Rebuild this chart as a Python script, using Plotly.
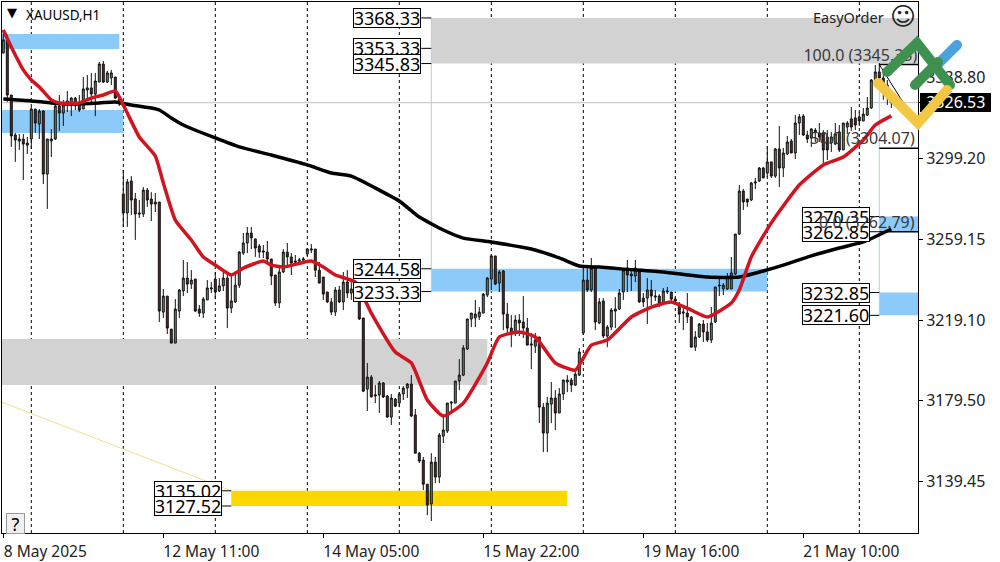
import plotly.graph_objects as go

# ---- price data (bar index = position in the lists) ----
opens = [
3351.0,3357.5,3330.3,3310.6,3308.6,3308.6,3306.6,3308.6,3323.4,3316.0,
3322.4,3291.3,3307.6,3308.6,3324.9,3321.4,3325.4,3325.4,3328.8,3325.4,
3323.4,3332.8,3333.8,3330.8,3336.7,3345.6,3336.7,3338.7,3339.2,3325.9,
3281.5,3272.1,3287.9,3279.0,3272.1,3271.6,3283.4,3279.0,3276.5,3277.5,
3223.2,3231.1,3214.8,3207.9,3223.7,3233.6,3240.0,3237.0,3239.5,3224.7,
3222.7,3229.2,3234.6,3239.5,3233.6,3236.1,3240.0,3225.2,3228.2,3236.5,
3252.3,3257.3,3262.2,3259.3,3255.8,3252.8,3252.8,3249.4,3241.5,3227.7,
3243.0,3252.8,3250.4,3248.4,3248.4,3248.9,3251.9,3253.8,3254.3,3243.9,
3240.5,3233.1,3228.2,3223.2,3234.1,3228.2,3238.0,3232.6,3232.1,3236.1,
3220.3,3185.2,3191.1,3181.8,3182.3,3188.2,3181.8,3171.4,3180.3,3178.3,
3182.8,3185.7,3187.7,3172.4,3153.6,3150.2,3138.3,3128.5,3149.2,3141.8,
3162.0,3164.5,3178.3,3178.3,3189.2,3192.1,3205.0,3219.8,3220.3,3220.8,
3222.7,3231.6,3239.5,3250.9,3237.5,3243.5,3222.2,3215.3,3212.9,3219.3,
3218.3,3215.3,3206.9,3206.4,3210.9,3176.3,3163.5,3177.8,3180.8,3173.4,
3182.8,3188.7,3189.7,3187.2,3192.1,3212.9,3239.0,3234.1,3245.4,3217.8,
3228.7,3211.4,3215.8,3223.7,3224.7,3233.1,3244.9,3241.0,3241.0,3243.0,
3230.1,3230.1,3234.1,3230.6,3231.1,3227.7,3233.1,3233.1,3229.6,3226.2,
3222.7,3222.7,3220.8,3205.9,3210.9,3217.3,3213.4,3209.4,3218.3,3236.1,
3234.6,3234.6,3234.6,3242.0,3261.7,3282.9,3279.0,3278.5,3286.9,3287.9,
3294.3,3291.8,3297.3,3290.3,3303.7,3294.3,3301.2,3307.6,3301.7,3316.5,
3319.9,3310.6,3309.1,3312.1,3311.6,3311.6,3309.6,3306.6,3306.1,3312.1,
3303.2,3314.5,3318.5,3319.0,3319.5,3317.5,3320.4,3323.9,3337.7,3341.7,
3338.7,3335.2,3330.3,
]
highs = [
3362.4,3359.9,3330.3,3311.6,3311.1,3311.1,3309.6,3324.4,3323.4,3323.4,
3322.9,3308.6,3313.5,3325.4,3330.3,3327.9,3332.3,3329.3,3329.3,3330.3,
3339.2,3340.2,3341.2,3341.2,3346.6,3347.1,3342.2,3342.7,3339.2,3328.8,
3293.3,3288.9,3290.3,3282.0,3278.5,3284.9,3284.4,3282.4,3282.0,3277.5,
3234.6,3231.1,3214.8,3229.6,3234.6,3248.9,3247.9,3243.9,3239.5,3226.7,
3230.6,3239.0,3238.0,3243.0,3240.0,3243.0,3242.5,3241.5,3242.5,3253.3,
3262.2,3265.2,3265.2,3259.3,3256.8,3256.3,3258.3,3249.4,3241.5,3246.4,
3254.3,3257.3,3252.3,3251.4,3249.9,3250.4,3254.8,3256.8,3254.3,3247.9,
3240.5,3233.1,3230.1,3235.6,3236.1,3243.0,3243.9,3238.0,3238.0,3237.5,
3220.3,3198.1,3192.1,3187.2,3189.2,3188.7,3182.3,3182.8,3180.8,3183.7,
3186.7,3188.2,3192.1,3175.4,3154.1,3151.7,3138.3,3153.6,3151.7,3163.5,
3171.9,3178.3,3178.8,3189.2,3200.0,3206.9,3219.8,3222.7,3229.2,3225.7,
3232.6,3240.5,3251.4,3250.9,3243.9,3243.9,3227.7,3221.7,3221.7,3222.2,
3231.1,3220.3,3212.9,3212.9,3210.9,3178.3,3181.3,3188.7,3184.7,3185.7,
3189.7,3192.1,3190.7,3193.6,3205.5,3244.9,3244.9,3249.9,3246.4,3230.1,
3230.1,3216.8,3225.2,3230.6,3234.6,3244.9,3248.9,3244.4,3248.9,3243.0,
3232.6,3240.0,3239.0,3234.1,3232.1,3235.1,3235.6,3233.1,3230.6,3228.2,
3226.2,3232.6,3221.2,3213.8,3217.8,3219.3,3217.8,3225.7,3235.6,3240.0,
3237.5,3242.5,3250.4,3261.7,3285.9,3283.9,3279.0,3287.4,3289.4,3294.8,
3294.8,3304.7,3297.3,3304.2,3315.0,3304.2,3310.1,3308.6,3320.4,3320.9,
3320.9,3312.6,3314.0,3314.0,3316.5,3313.0,3313.0,3312.1,3316.5,3315.5,
3316.5,3317.5,3324.4,3322.9,3321.9,3323.9,3329.3,3338.2,3345.1,3346.1,
3340.7,3337.7,3332.8,
]
lows = [
3351.0,3326.9,3304.7,3297.3,3303.2,3288.4,3301.2,3303.7,3311.6,3308.6,
3286.4,3274.1,3299.7,3308.1,3312.6,3315.0,3321.9,3319.9,3322.9,3321.9,
3323.4,3327.9,3326.9,3319.9,3336.7,3336.2,3336.2,3335.2,3328.3,3324.9,
3265.2,3265.2,3271.1,3258.8,3269.6,3270.1,3275.1,3268.1,3272.6,3218.3,
3220.3,3212.4,3207.9,3207.9,3220.3,3231.1,3232.6,3234.6,3223.2,3220.8,
3220.3,3229.2,3232.6,3229.6,3233.1,3233.6,3215.3,3222.7,3227.7,3235.1,
3251.4,3252.3,3254.3,3250.4,3249.9,3249.9,3247.4,3236.5,3226.2,3225.2,
3242.5,3246.4,3241.5,3246.4,3246.4,3247.9,3250.9,3252.3,3240.5,3237.5,
3229.2,3227.7,3221.7,3221.2,3227.7,3224.2,3230.1,3229.2,3231.6,3219.3,
3183.7,3174.4,3181.3,3178.3,3173.4,3180.8,3170.9,3167.5,3176.3,3176.3,
3179.8,3180.8,3171.4,3153.6,3148.7,3135.4,3123.0,3120.1,3138.8,3138.8,
3158.6,3163.5,3173.4,3178.3,3184.7,3191.6,3204.5,3215.8,3215.8,3219.3,
3222.7,3230.6,3234.1,3236.5,3233.1,3214.3,3212.9,3205.9,3211.4,3211.4,
3210.4,3206.9,3195.1,3203.0,3168.4,3154.1,3154.1,3168.4,3165.0,3173.4,
3179.8,3183.7,3183.7,3186.7,3191.6,3211.9,3233.1,3233.1,3214.3,3217.3,
3210.4,3205.9,3214.3,3215.3,3224.2,3229.2,3233.1,3233.6,3238.0,3227.7,
3225.7,3217.3,3226.7,3228.7,3225.7,3226.7,3232.1,3228.7,3226.7,3217.8,
3214.3,3217.8,3205.9,3204.0,3210.4,3208.4,3208.4,3207.9,3217.8,3231.1,
3231.6,3234.1,3234.6,3241.5,3261.2,3273.6,3275.1,3278.0,3283.9,3287.4,
3289.4,3289.8,3289.4,3289.4,3284.9,3289.8,3300.7,3301.7,3298.7,3310.6,
3310.1,3306.6,3304.7,3307.1,3307.1,3295.8,3298.2,3302.2,3305.6,3302.2,
3303.2,3311.1,3312.6,3313.0,3315.0,3317.5,3319.9,3323.4,3337.7,3338.2,
3327.9,3325.4,3323.9,
]
closes = [
3357.5,3330.3,3310.1,3308.1,3307.6,3306.1,3305.6,3323.4,3316.5,3322.4,
3291.3,3308.6,3308.6,3324.9,3321.4,3325.4,3327.4,3328.8,3325.4,3322.9,
3333.3,3333.8,3330.8,3337.2,3345.6,3336.7,3341.2,3341.2,3328.8,3328.3,
3272.1,3287.4,3278.5,3271.6,3271.6,3283.4,3278.5,3276.5,3277.5,3223.7,
3231.1,3215.3,3207.9,3224.7,3234.1,3240.0,3237.0,3239.0,3223.7,3222.7,
3229.6,3235.1,3235.1,3233.1,3236.1,3240.0,3225.2,3228.7,3236.5,3252.8,
3257.3,3262.2,3259.8,3254.8,3252.8,3253.3,3249.4,3241.0,3227.7,3243.0,
3252.8,3250.4,3247.4,3247.9,3248.9,3249.4,3254.3,3254.3,3243.9,3237.5,
3232.1,3228.2,3223.2,3234.1,3228.2,3238.0,3232.6,3234.6,3235.6,3219.8,
3184.2,3191.1,3181.3,3182.3,3188.2,3181.3,3171.4,3180.8,3176.8,3182.8,
3185.7,3187.7,3171.9,3153.6,3149.7,3138.3,3128.0,3149.2,3141.8,3162.5,
3165.0,3178.3,3178.8,3189.2,3192.1,3205.5,3219.8,3222.7,3222.2,3223.2,
3232.1,3240.0,3250.9,3237.0,3243.0,3222.2,3215.3,3212.9,3219.3,3217.8,
3215.3,3206.9,3207.4,3209.4,3176.3,3163.5,3178.3,3180.8,3173.4,3182.8,
3189.7,3189.7,3187.2,3192.6,3203.5,3239.0,3234.1,3244.9,3218.3,3228.2,
3211.4,3215.8,3224.2,3224.7,3232.6,3243.9,3241.5,3242.0,3244.9,3228.2,
3228.2,3234.1,3231.1,3231.1,3227.2,3233.6,3233.6,3229.6,3228.7,3222.2,
3223.2,3220.8,3205.9,3210.9,3217.3,3213.4,3209.4,3217.8,3235.6,3236.5,
3236.5,3240.5,3242.5,3261.7,3282.9,3277.5,3277.5,3286.9,3287.4,3294.3,
3289.4,3297.3,3290.3,3303.7,3294.3,3301.7,3307.1,3301.7,3316.5,3319.5,
3310.6,3308.6,3313.5,3313.0,3309.6,3303.2,3303.2,3309.6,3311.1,3303.2,
3316.5,3316.5,3314.5,3315.5,3317.5,3320.9,3323.9,3337.7,3341.7,3338.7,
3335.2,3330.3,3326.5,
]

slow_ma_bars = [0,7,12,17,24,28,32,37,39,42,45,53,59,67,76,82,87,94,99,104,110,115,122,132,139,144,149,155,165,176,184,190,195,202,209,215,222]
slow_ma = [3328.3,3327.4,3326.4,3325.9,3326.4,3326.9,3325.4,3323.9,3322.9,3319.0,3315.5,3309.1,3304.7,3300.7,3295.8,3291.8,3290.3,3283.4,3278.0,3270.1,3263.7,3259.7,3257.8,3254.3,3249.9,3245.9,3245.4,3244.4,3243.0,3240.5,3240.5,3243.5,3246.4,3250.9,3254.8,3257.8,3264.2]
fast_ma_bars = [0,2,5,7,9,12,14,19,22,25,28,29,31,34,38,40,43,47,50,53,57,60,65,67,70,77,80,83,88,92,98,102,106,110,115,121,124,129,133,138,143,147,151,157,162,167,172,176,182,184,187,192,199,205,210,215,218,222]
fast_ma = [3362.4,3354.0,3342.7,3337.7,3334.3,3327.9,3326.4,3326.4,3328.8,3330.3,3332.3,3329.3,3321.4,3309.6,3300.2,3286.9,3268.6,3258.8,3250.4,3246.4,3241.5,3244.9,3248.4,3246.4,3245.4,3248.4,3245.4,3241.5,3238.0,3222.7,3203.5,3198.1,3179.8,3171.9,3178.3,3198.1,3210.9,3213.4,3210.9,3198.1,3194.6,3206.9,3209.4,3220.8,3225.7,3228.2,3224.2,3220.8,3227.7,3234.1,3250.4,3267.2,3285.9,3295.8,3299.7,3308.1,3315.5,3320.0]

y_tick_values = [3338.80, 3326.53, 3299.20, 3259.15, 3219.10, 3179.50, 3139.45]
y_tick_labels = ["3338.80", '<span style="color:white">3326.53</span>', "3299.20", "3259.15", "3219.10", "3179.50", "3139.45"]
x_tick_bars = [0, 40, 80, 120, 160, 200]
x_tick_labels = ["8 May 2025\u00a0\u00a0\u00a0", "12 May 11:00", "14 May 05:00", "15 May 22:00", "19 May 16:00", "21 May 10:00"]
grid_bars = [7, 30, 53, 76, 99, 122, 145, 168, 191, 214]

zone_start = [-0.4, -0.4, 107, 107, -0.4, 57, 219, 219]
zone_end = [29, 30, 229, 191, 121, 141, 229, 229]
zone_high = [3360.4, 3322.9, 3368.33, 3244.58, 3209.9, 3135.02, 3232.85, 3270.35]
zone_low = [3353.0, 3311.6, 3345.83, 3233.33, 3187.2, 3127.52, 3221.60, 3262.85]
zone_color = ["#8ccafa", "#8ccafa", "#d2d2d2", "#8ccafa", "#d2d2d2", "#ffd700", "#8ccafa", "#8ccafa"]

box_levels = [3368.33, 3353.33, 3345.83, 3244.58, 3233.33, 3135.02, 3127.52, 3270.35, 3262.85, 3232.85, 3221.60]
box_labels = ["3368.33", "3353.33", "3345.83", "3244.58", "3233.33", "3135.02", "3127.52", "3270.35", "3262.85", "3232.85", "3221.60"]
box_right_bar = [104.5, 104.5, 104.5, 104.5, 104.5, 54.7, 54.7, 216.7, 216.7, 216.7, 216.7]
box_tick_end = [107, 107, 107, 107, 107, 57, 57, 219, 219, 219, 219]

fib_levels = [3345.35, 3304.07, 3262.79]
fib_labels = ["100.0 (3345.35)", "50.0 (3304.07)", "0.0 (3262.79)"]
fib_start_bar = 219
bid_price = 3326.53

FONT = "Noto Sans"
W, H = 1000, 562
L, R, T, B = 2, 82, 2, 29
BARS = len(opens)
assert len(highs) == len(lows) == len(closes) == BARS == 223
assert len(slow_ma) == len(slow_ma_bars) and len(fast_ma) == len(fast_ma_bars)


def px(x):
    return (x - L) / (W - L - R)


def py(y):
    return 1 - (y - T) / (H - T - B)


fig = go.Figure()
fig.add_trace(go.Candlestick(
    x=list(range(BARS)), open=opens, high=highs, low=lows, close=closes,
    increasing=dict(fillcolor="#5d9163", line=dict(color="#101010", width=1)),
    decreasing=dict(fillcolor="#7c1d1d", line=dict(color="#101010", width=1)),
    whiskerwidth=0, showlegend=False, hoverinfo="skip",
))
fig.add_trace(go.Scatter(x=slow_ma_bars, y=slow_ma, mode="lines", showlegend=False, hoverinfo="skip",
                         line=dict(color="#000000", width=3.5, shape="spline", smoothing=0.5)))
fig.add_trace(go.Scatter(x=fast_ma_bars, y=fast_ma, mode="lines", showlegend=False, hoverinfo="skip",
                         line=dict(color="#d01420", width=3.5, shape="spline", smoothing=0.5)))
# the top level label sits under the logo, so it stays in a text trace
fig.add_trace(go.Scatter(x=[228.5], y=fib_levels[:1], text=fib_labels[:1], mode="text", textposition="top left",
                         textfont=dict(family=FONT, size=16, color="#3a3a3a"), showlegend=False, hoverinfo="skip"))

shapes = []
for x0, x1, hi, lo, col in zip(zone_start, zone_end, zone_high, zone_low, zone_color):
    shapes.append(dict(type="rect", xref="x", yref="y", x0=x0, x1=x1, y0=lo, y1=hi, fillcolor=col,
                       line_width=0, layer="below"))
for b in grid_bars:
    shapes.append(dict(type="line", xref="x", yref="paper", x0=b, x1=b, y0=0, y1=1, layer="below",
                       line=dict(color="#000000", width=1, dash="3px,3px")))
shapes.append(dict(type="line", xref="paper", yref="y", x0=0, x1=1, y0=bid_price, y1=bid_price, layer="below",
                   line=dict(color="#c0c0c0", width=1)))
shapes.append(dict(type="line", xref="x", yref="y", x0=107, x1=107, y0=3233.33, y1=3368.33, layer="below",
                   line=dict(color="#c8c8c8", width=1)))
shapes.append(dict(type="line", xref="x", yref="y", x0=219, x1=219, y0=3221.60, y1=3345.35, layer="below",
                   line=dict(color="#a9d4ef", width=1)))
shapes.append(dict(type="line", xref="x", yref="y", x0=-0.4, x1=57, y0=3178.8, y1=3135.02, layer="below",
                   line=dict(color="#efe08c", width=1)))
for lvl in fib_levels:
    shapes.append(dict(type="line", xref="x", yref="y", x0=fib_start_bar, x1=229, y0=lvl, y1=lvl,
                       line=dict(color="#000000", width=1.5)))
shapes.append(dict(type="line", xref="x", yref="y", x0=fib_start_bar, x1=225, y0=3345.35, y1=3326.5,
                   line=dict(color="#000000", width=1)))
for lvl, bx, bt in zip(box_levels, box_right_bar, box_tick_end):
    shapes.append(dict(type="line", xref="x", yref="y", x0=bx, x1=bt, y0=lvl, y1=lvl,
                       line=dict(color="#000000", width=1)))
# black price tag behind the white tick label
shapes.append(dict(type="rect", xref="paper", yref="paper", x0=px(920), x1=px(991), y0=py(112), y1=py(93),
                   fillcolor="#000000", line_width=0, layer="below"))
# logo, above the axis labels, with rounded stroke ends
LOGO_W = 10
logo = [
    ("#4aa3df", [(938, 64), (957, 45)]),
    ("#3f9150", [(887, 72), (917, 43), (950, 85)]),
    ("#3f9150", [(915, 85), (938, 62)]),
    ("#f2c744", [(878, 83), (918, 123), (947, 90)]),
]
for col, pts in logo:
    path = "M " + " L ".join(f"{px(a):.5f} {py(b):.5f}" for a, b in pts)
    shapes.append(dict(type="path", xref="paper", yref="paper", path=path, layer="above",
                       line=dict(color=col, width=LOGO_W)))
    for a, b in (pts[0], pts[-1]):
        r = LOGO_W / 2
        shapes.append(dict(type="circle", xref="paper", yref="paper", layer="above", fillcolor=col, line_width=0,
                           x0=px(a - r), x1=px(a + r), y0=py(b + r), y1=py(b - r)))

ann = []
for lvl, lab, bx in zip(box_levels, box_labels, box_right_bar):
    ann.append(dict(xref="x", yref="y", x=bx, y=lvl, text=lab, showarrow=False, xanchor="right", yanchor="middle",
                    width=66, height=18, align="center", valign="middle", borderpad=0, borderwidth=1,
                    bordercolor="#000000", bgcolor="#ffffff", font=dict(family=FONT, size=18, color="#000000")))
for lvl, lab in zip(fib_levels[1:], fib_labels[1:]):
    ann.append(dict(xref="x", yref="y", x=228.5, y=lvl, text=lab, showarrow=False, xanchor="right", yanchor="bottom",
                    yshift=-3, font=dict(family=FONT, size=16, color="#3a3a3a")))
ann += [
    dict(xref="paper", yref="paper", x=px(24), y=py(15), text="XAUUSD,H1", showarrow=False, xanchor="left",
         yanchor="middle", font=dict(family=FONT, size=13.5, color="#000000")),
    dict(xref="paper", yref="paper", x=px(12), y=py(13), text="▼", showarrow=False, xanchor="center",
         yanchor="middle", font=dict(family="DejaVu Sans", size=13, color="#000000")),
    dict(xref="paper", yref="paper", x=px(886), y=py(17), text="EasyOrder", showarrow=False, xanchor="right",
         yanchor="middle", font=dict(family=FONT, size=14.5, color="#222222")),
    dict(xref="paper", yref="paper", x=px(903), y=py(17), text="☺", showarrow=False, xanchor="center",
         yanchor="middle", font=dict(family="DejaVu Sans", size=25, color="#222222")),
    dict(xref="paper", yref="paper", x=px(15.5), y=py(523), text="?", showarrow=False, xanchor="center",
         yanchor="middle", width=17, height=19, borderpad=0, borderwidth=1, bordercolor="#999999",
         bgcolor="#f0f0f0", font=dict(family=FONT, size=18, color="#000000")),
]

fig.update_layout(
    width=W, height=H, margin=dict(l=L, r=R, t=T, b=B, pad=0),
    paper_bgcolor="#ffffff", plot_bgcolor="#ffffff", showlegend=False,
    shapes=shapes, annotations=ann, font=dict(family=FONT, size=15, color="#000000"),
    xaxis=dict(range=[-0.325, 228.675], rangeslider=dict(visible=False), showgrid=False, zeroline=False,
               tickmode="array", tickvals=x_tick_bars, ticktext=x_tick_labels, ticks="outside", ticklen=4,
               tickcolor="#000000", ticklabelshift=48, showline=True, linecolor="#000000", linewidth=1,
               mirror=True, automargin=False, tickfont=dict(family=FONT, size=15.5, color="#222222")),
    yaxis=dict(range=[3114.2, 3376.2], side="right", showgrid=False, zeroline=False,
               tickmode="array", tickvals=y_tick_values, ticktext=y_tick_labels, ticks="outside", ticklen=4,
               tickcolor="#000000", showline=True, linecolor="#000000", linewidth=1, mirror=True,
               automargin=False, tickfont=dict(family=FONT, size=16, color="#222222")),
)

fig.write_html("out.html", config={"displayModeBar": False},
               post_script="document.body.style.margin='0';document.documentElement.style.overflow='hidden';")
